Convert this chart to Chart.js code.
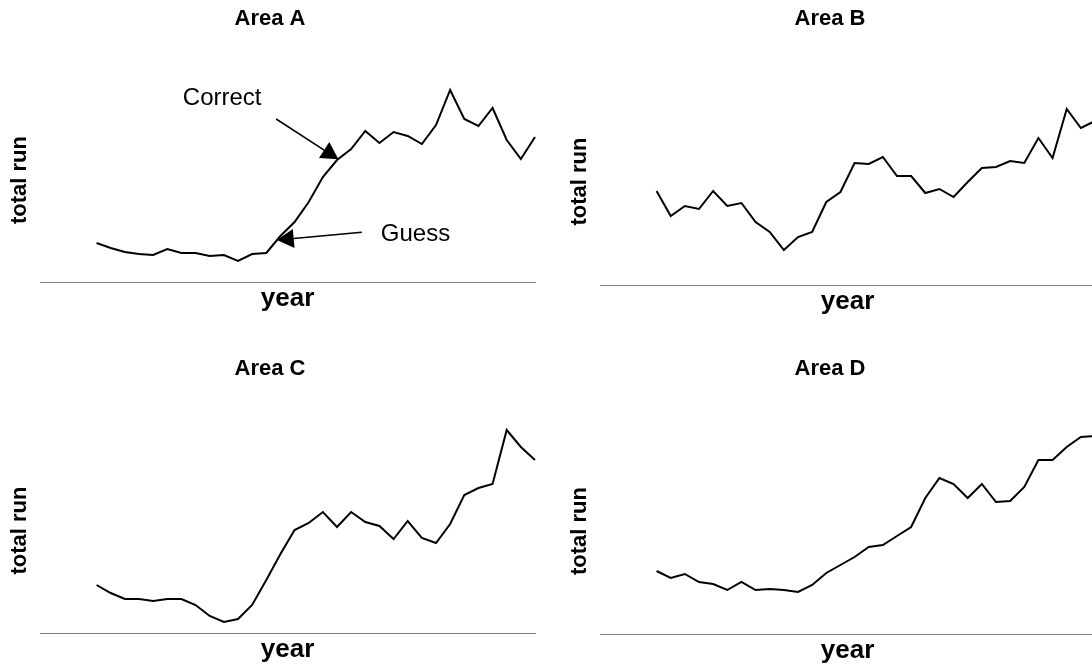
<!DOCTYPE html>
<html lang="en">
<head>
    <meta charset="UTF-8">
    <title>Total run by area</title>
    <script src="https://cdn.jsdelivr.net/npm/chart.js"></script>
    <style>
        body { margin: 0; width: 1092px; height: 670px; overflow: hidden; background: #fff; position: relative; }
        .panel { position: absolute; }
    </style>
</head>
<body>
    <div class="panel" style="left:0;top:0"><canvas id="areaA" width="546" height="335"></canvas></div>
    <div class="panel" style="left:560px;top:0"><canvas id="areaB" width="546" height="338"></canvas></div>
    <div class="panel" style="left:0;top:350px"><canvas id="areaC" width="546" height="336"></canvas></div>
    <div class="panel" style="left:560px;top:350px"><canvas id="areaD" width="546" height="337"></canvas></div>

    <script>
        // years on the x axis (no tick labels in the original)
        const years = [1, 2, 3, 4, 5, 6, 7, 8, 9, 10, 11, 12, 13, 14, 15, 16,
                       17, 18, 19, 20, 21, 22, 23, 24, 25, 26, 27, 28, 29, 30, 31, 32]

        // total run
        const runA = [39, 34, 30, 28, 27, 33, 29, 29, 26, 27, 21, 28, 29, 46, 60, 80,
                      105, 122, 133, 151, 139, 150, 146, 138, 157, 192, 163, 156, 174, 142, 123, 145]
        const runB = [94, 69, 79, 76, 94, 79, 82, 63, 53, 35, 48, 53, 83, 93, 122, 121,
                      128, 109, 109, 92, 96, 88, 103, 117, 118, 124, 122, 147, 127, 176, 157, 164]
        const runC = [48, 40, 34, 34, 32, 34, 34, 28, 17, 11, 14, 28, 53, 79, 103, 110,
                      121, 106, 121, 111, 107, 94, 112, 95, 90, 109, 138, 145, 149, 203, 186, 173]
        const runD = [63, 56, 60, 52, 50, 44, 52, 44, 45, 44, 42, 49, 61, 69, 77, 87,
                      89, 98, 107, 136, 156, 150, 136, 150, 132, 133, 147, 174, 174, 187, 197, 198]

        // the two arrows of Area A, in axis units
        const notesA = [
          { text: 'Correct', at: [7.1, 177.5], from: [13.7, 163], to: [18.1, 122.7] },
          { text: 'Guess', at: [21.1, 41], from: [19.75, 49.7], to: [13.74, 42] }
        ]

        Chart.defaults.font.family = '"Liberation Sans", Arial, sans-serif'
        Chart.defaults.color = '#000'

        const arrows = {
          id: 'arrows',
          afterDatasetsDraw(chart, args, opts) {
            const {ctx, scales: {x, y}} = chart
            ctx.save()
            ctx.fillStyle = '#000'
            ctx.strokeStyle = '#000'
            ctx.lineWidth = 1.6
            ctx.font = '24px "Liberation Sans", Arial, sans-serif'
            ctx.textBaseline = 'alphabetic'
            ctx.textAlign = 'left'
            opts.notes.forEach(n => {
              ctx.fillText(n.text, x.getPixelForValue(n.at[0]), y.getPixelForValue(n.at[1]))
              const x1 = x.getPixelForValue(n.from[0]), y1 = y.getPixelForValue(n.from[1])
              const x2 = x.getPixelForValue(n.to[0]), y2 = y.getPixelForValue(n.to[1])
              const a = Math.atan2(y2 - y1, x2 - x1)
              const len = 17, half = 9.5
              const bx = x2 - len * Math.cos(a), by = y2 - len * Math.sin(a)
              ctx.beginPath()
              ctx.moveTo(x1, y1)
              ctx.lineTo(bx, by)
              ctx.stroke()
              ctx.beginPath()
              ctx.moveTo(x2, y2)
              ctx.lineTo(bx + half * Math.sin(a), by - half * Math.cos(a))
              ctx.lineTo(bx - half * Math.sin(a), by + half * Math.cos(a))
              ctx.closePath()
              ctx.fill()
            })
            ctx.restore()
          }
        }

        const makeChart = (id, title, values, yMax, notes) => {
          return new Chart(document.getElementById(id), {
            type: 'line',
            data: {
              datasets: [{
                data: years.map((yr, i) => ({ x: yr, y: values[i] })),
                borderColor: '#000',
                borderWidth: 2,
                pointRadius: 0,
                tension: 0,
                clip: 4
              }]
            },
            plugins: notes ? [arrows] : [],
            options: {
              responsive: false,
              animation: false,
              layout: { autoPadding: false, padding: { left: 5, right: 11, top: 0, bottom: 20.4 } },
              plugins: {
                legend: { display: false },
                tooltip: { enabled: false },
                title: {
                  display: true,
                  text: title,
                  font: { size: 22, weight: 'bold' },
                  padding: { top: 6, bottom: 45.6 }
                },
                arrows: { notes: notes || [] }
              },
              scales: {
                x: {
                  type: 'linear',
                  min: -3,
                  max: 32,
                  grid: { display: false, drawTicks: false },
                  border: { display: true, color: '#808080', width: 1 },
                  ticks: { display: false },
                  title: { display: true, text: 'year', font: { size: 26, weight: 'bold' }, padding: { top: 1.4, bottom: 0 } }
                },
                y: {
                  min: 0,
                  max: yMax,
                  grid: { display: false, drawTicks: false },
                  border: { display: false },
                  ticks: { display: false },
                  title: { display: true, text: 'total run', font: { size: 22, weight: 'bold' }, padding: { top: 2.2, bottom: 6.4 } }
                }
              }
            }
          })
        }

        makeChart('areaA', 'Area A', runA, 204, notesA)
        makeChart('areaB', 'Area B', runB, 207)
        makeChart('areaC', 'Area C', runC, 205)
        makeChart('areaD', 'Area D', runD, 206)
    </script>
</body>
</html>
